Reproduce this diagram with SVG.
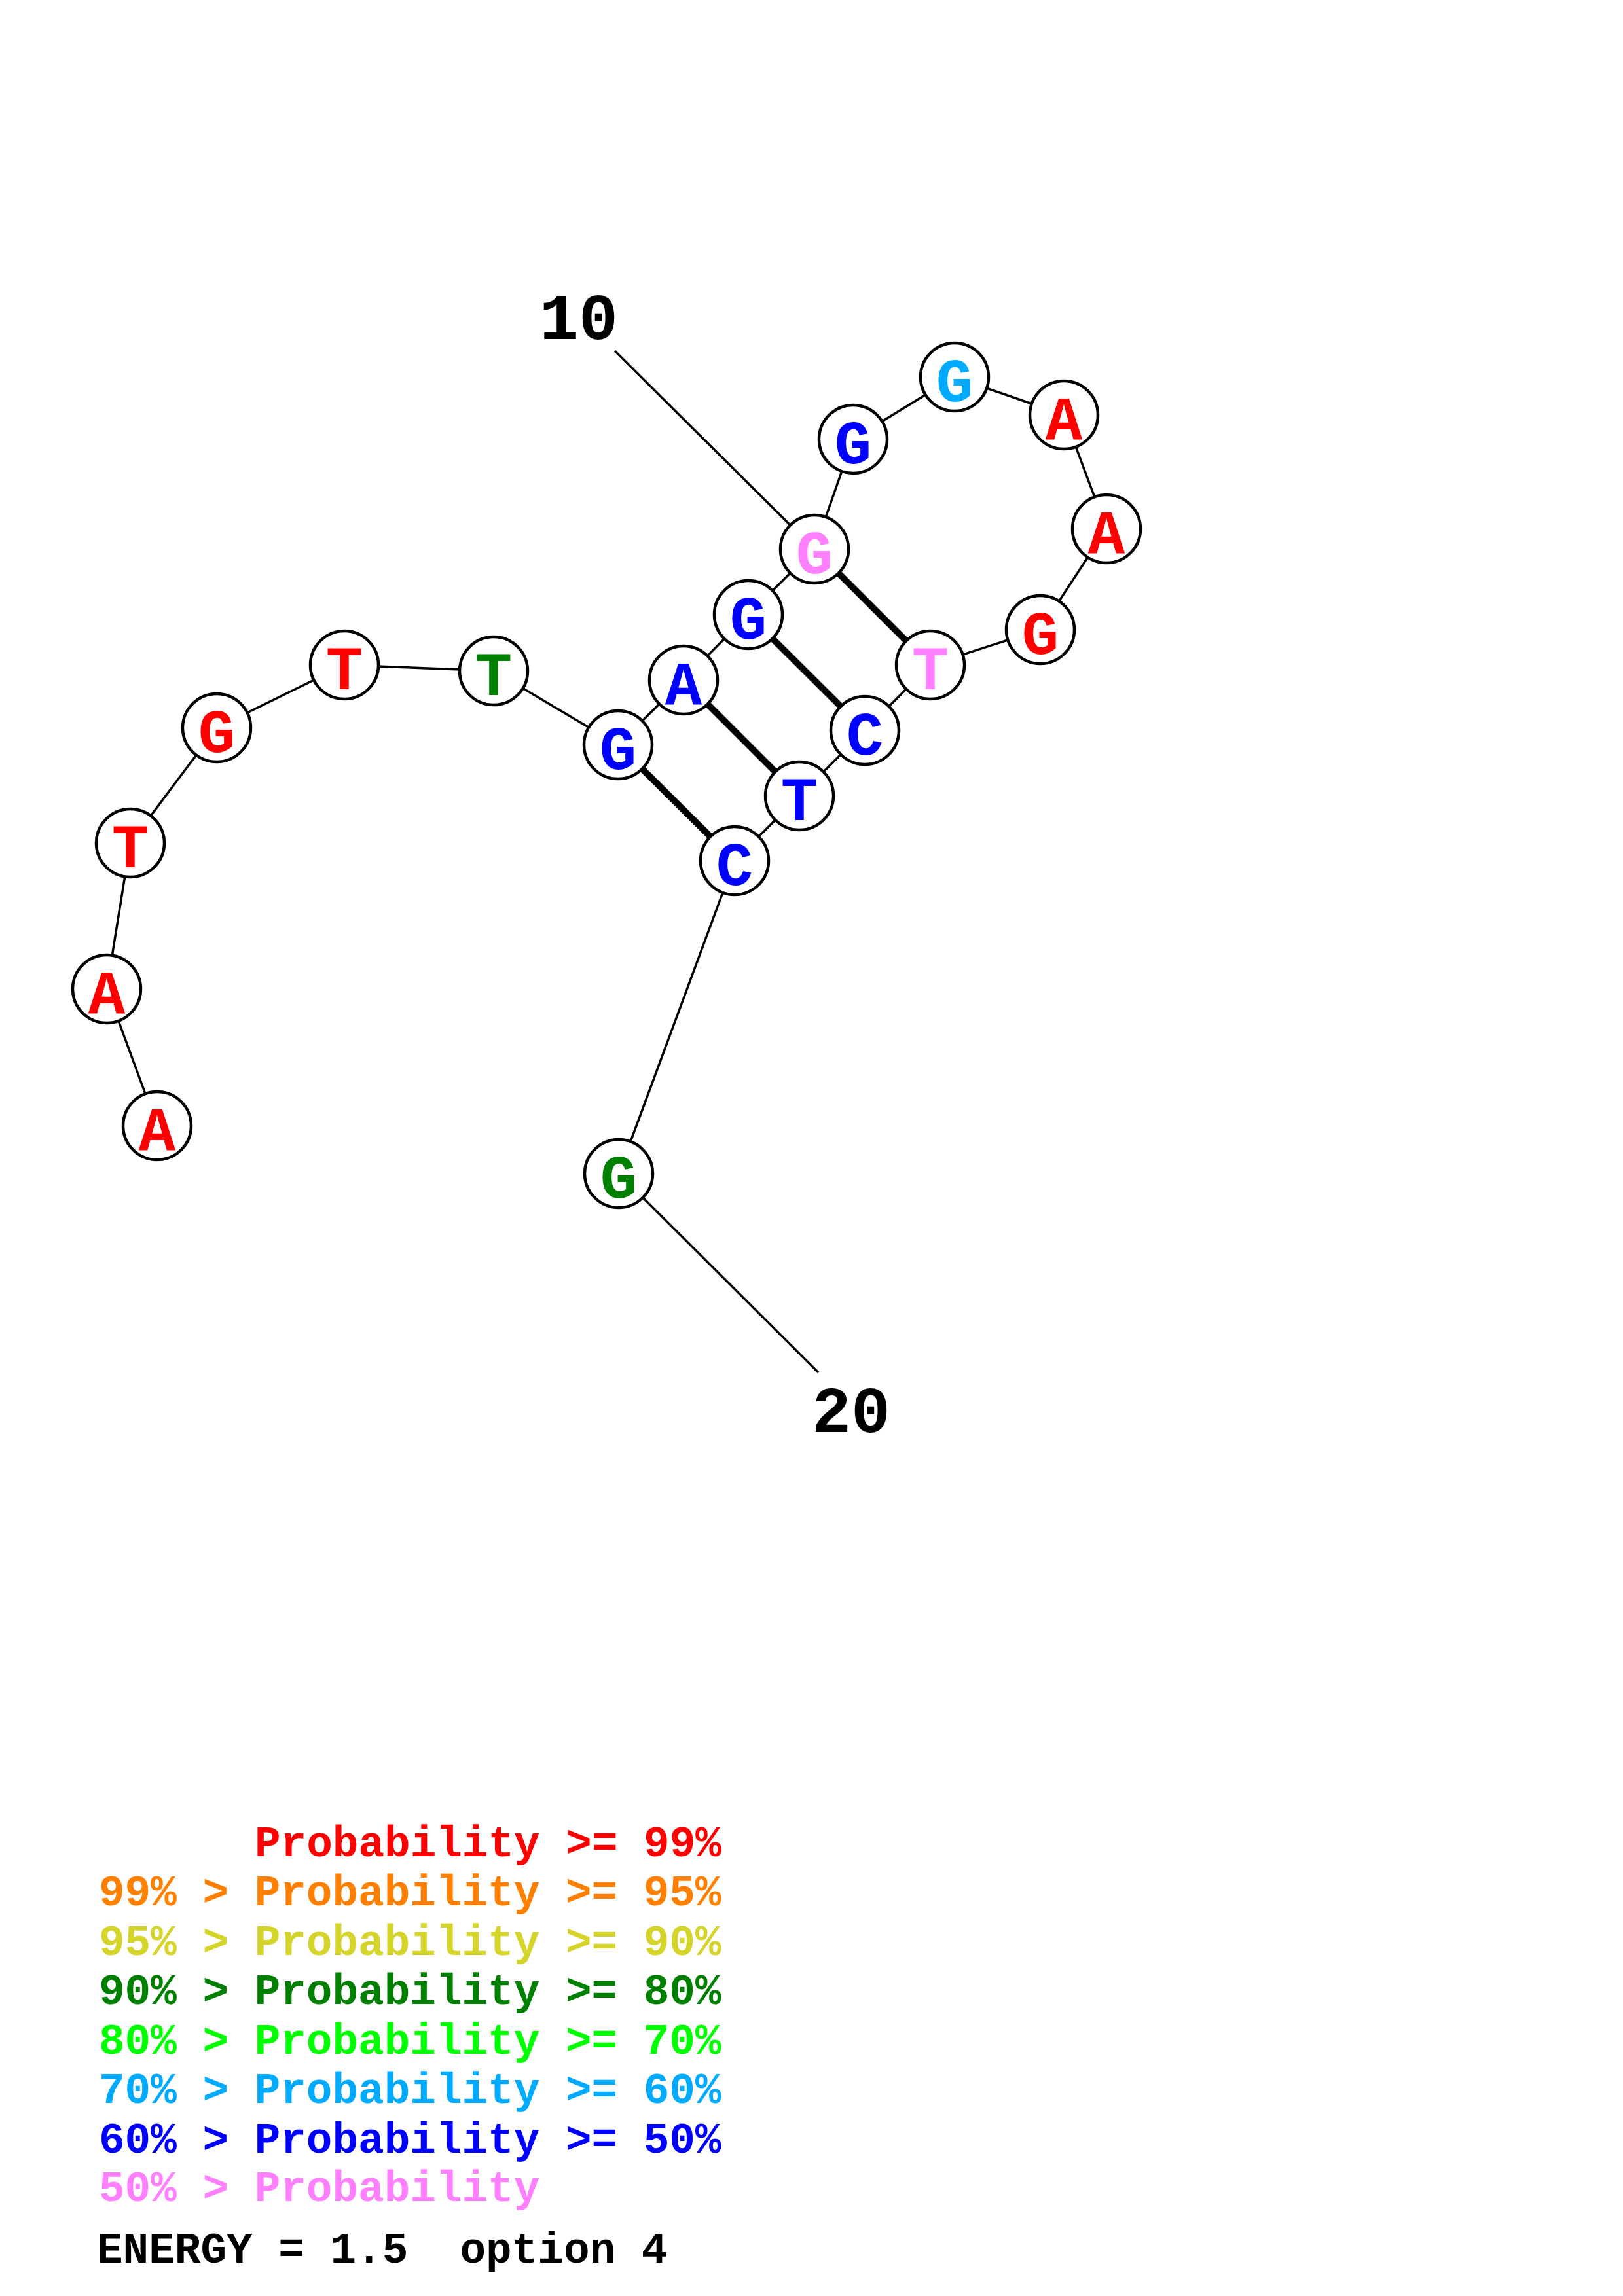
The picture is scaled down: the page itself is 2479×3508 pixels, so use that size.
<svg xmlns="http://www.w3.org/2000/svg" width="2479" height="3508" viewBox="0 0 2479 3508">
<style>
.bb{stroke:#000;stroke-width:3.5;fill:none}
.pr{stroke:#000;stroke-width:10;fill:none}
.nd circle{fill:#fff;stroke:#000;stroke-width:4.5}
.nd text{font-family:"Liberation Mono","DejaVu Sans Mono",monospace;font-weight:bold;font-size:94px;text-anchor:middle}
.num{font-family:"Liberation Mono","DejaVu Sans Mono",monospace;font-weight:bold;font-size:100px;text-anchor:middle;fill:#000}
.lg{font-family:"Liberation Mono","DejaVu Sans Mono",monospace;font-weight:bold;font-size:66px;white-space:pre}
.r{fill:#ff0000}.o{fill:#ff8000}.y{fill:#d4d42a}.dg{fill:#008000}.lgr{fill:#00ff00}.lb{fill:#00aaff}.b{fill:#0000ff}.p{fill:#ff80ff}.k{fill:#000}
</style>
<rect width="2479" height="3508" fill="#fff"/>
<g id="connectors">
<polyline class="bb" points="240,1720 163,1511 199,1288 331,1112 526,1016 754,1025 944,1138 1044,1039 1143,939 1244,839 1303,671 1458,576 1625,634 1690,808 1589,962 1421,1016 1321,1116 1221,1216 1122,1315 945,1793"/>
<line class="bb" x1="939" y1="536" x2="1244" y2="839"/>
<line class="bb" x1="945" y1="1793" x2="1250" y2="2097"/>
<line class="pr" x1="944" y1="1138" x2="1122" y2="1315"/>
<line class="pr" x1="1044" y1="1039" x2="1221" y2="1216"/>
<line class="pr" x1="1143" y1="939" x2="1321" y2="1116"/>
<line class="pr" x1="1244" y1="839" x2="1421" y2="1016"/>
</g>
<g id="n1" class="nd"><circle cx="240" cy="1720" r="52"/><text x="240" y="1757" class="r">A</text></g>
<g id="n2" class="nd"><circle cx="163" cy="1511" r="52"/><text x="163" y="1548" class="r">A</text></g>
<g id="n3" class="nd"><circle cx="199" cy="1288" r="52"/><text x="199" y="1325" class="r">T</text></g>
<g id="n4" class="nd"><circle cx="331" cy="1112" r="52"/><text x="331" y="1149" class="r">G</text></g>
<g id="n5" class="nd"><circle cx="526" cy="1016" r="52"/><text x="526" y="1053" class="r">T</text></g>
<g id="n6" class="nd"><circle cx="754" cy="1025" r="52"/><text x="754" y="1062" class="dg">T</text></g>
<g id="n7" class="nd"><circle cx="944" cy="1138" r="52"/><text x="944" y="1175" class="b">G</text></g>
<g id="n8" class="nd"><circle cx="1044" cy="1039" r="52"/><text x="1044" y="1076" class="b">A</text></g>
<g id="n9" class="nd"><circle cx="1143" cy="939" r="52"/><text x="1143" y="976" class="b">G</text></g>
<g id="n10" class="nd"><circle cx="1244" cy="839" r="52"/><text x="1244" y="876" class="p">G</text></g>
<g id="n11" class="nd"><circle cx="1303" cy="671" r="52"/><text x="1303" y="708" class="b">G</text></g>
<g id="n12" class="nd"><circle cx="1458" cy="576" r="52"/><text x="1458" y="613" class="lb">G</text></g>
<g id="n13" class="nd"><circle cx="1625" cy="634" r="52"/><text x="1625" y="671" class="r">A</text></g>
<g id="n14" class="nd"><circle cx="1690" cy="808" r="52"/><text x="1690" y="845" class="r">A</text></g>
<g id="n15" class="nd"><circle cx="1589" cy="962" r="52"/><text x="1589" y="999" class="r">G</text></g>
<g id="n16" class="nd"><circle cx="1421" cy="1016" r="52"/><text x="1421" y="1053" class="p">T</text></g>
<g id="n17" class="nd"><circle cx="1321" cy="1116" r="52"/><text x="1321" y="1153" class="b">C</text></g>
<g id="n18" class="nd"><circle cx="1221" cy="1216" r="52"/><text x="1221" y="1253" class="b">T</text></g>
<g id="n19" class="nd"><circle cx="1122" cy="1315" r="52"/><text x="1122" y="1352" class="b">C</text></g>
<g id="n20" class="nd"><circle cx="945" cy="1793" r="52"/><text x="945" y="1830" class="dg">G</text></g>
<text class="num" x="884" y="518">10</text>
<text class="num" x="1300" y="2188">20</text>
<g id="legend">
<text class="lg r" x="389" y="2836">Probability &gt;= 99%</text>
<text class="lg o" x="151" y="2911">99% &gt; Probability &gt;= 95%</text>
<text class="lg y" x="151" y="2987">95% &gt; Probability &gt;= 90%</text>
<text class="lg dg" x="151" y="3062">90% &gt; Probability &gt;= 80%</text>
<text class="lg lgr" x="151" y="3138">80% &gt; Probability &gt;= 70%</text>
<text class="lg lb" x="151" y="3213">70% &gt; Probability &gt;= 60%</text>
<text class="lg b" x="151" y="3289">60% &gt; Probability &gt;= 50%</text>
<text class="lg p" x="151" y="3363">50% &gt; Probability</text>
<text class="lg k" x="148" y="3457" xml:space="preserve">ENERGY = 1.5  option 4</text>
</g>
</svg>
